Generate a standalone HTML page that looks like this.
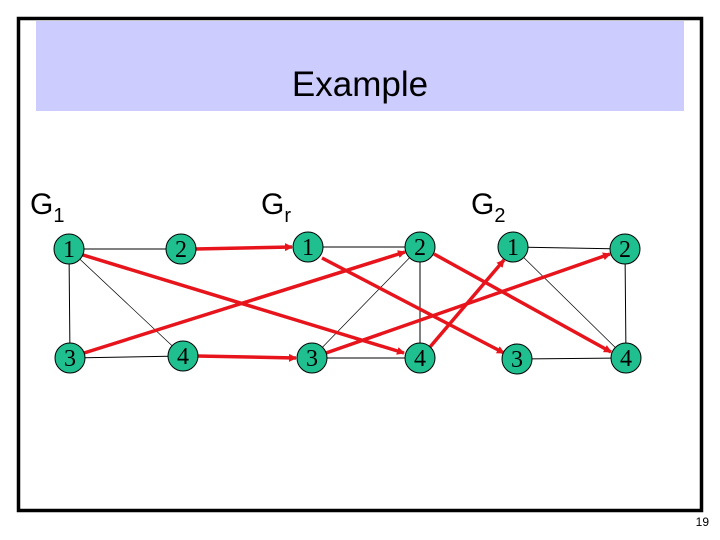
<!DOCTYPE html>
<html><head><style>
body{margin:0;width:720px;height:540px;background:#fff;overflow:hidden;position:relative;font-family:"Liberation Sans",sans-serif}
</style></head><body>
<svg width="720" height="540" style="position:absolute;left:0;top:0">
<defs><marker id="a" markerWidth="8" markerHeight="8" refX="7" refY="4" orient="auto" markerUnits="userSpaceOnUse"><path d="M0,0 L8,4 L0,8 z" fill="#e8141c"/></marker></defs>
<rect x="18.5" y="18.5" width="683" height="492" fill="none" stroke="#000" stroke-width="3.5"/>
<rect x="36" y="21" width="648" height="90" fill="#ccccff"/>
<text x="360" y="96" font-size="35" text-anchor="middle" font-family="Liberation Sans">Example</text>
<g font-family="Liberation Sans" font-size="30">
<text x="30" y="214">G<tspan font-size="20" dy="8">1</tspan></text>
<text x="261" y="214">G<tspan font-size="20" dy="8">r</tspan></text>
<text x="471" y="214">G<tspan font-size="20" dy="8">2</tspan></text>
</g>
<text x="709" y="526" font-size="12" text-anchor="end">19</text>
<g stroke="#000" stroke-width="1" fill="none">
<line x1="69" y1="249" x2="181" y2="249"/><line x1="69" y1="249" x2="70" y2="358"/><line x1="70" y1="358" x2="183" y2="356"/><line x1="69" y1="249" x2="183" y2="356" stroke-width="0.7"/>
<line x1="308" y1="247" x2="420" y2="247"/><line x1="420" y1="247" x2="420" y2="358"/><line x1="312" y1="358" x2="420" y2="358"/><line x1="312" y1="358" x2="420" y2="247" stroke-width="0.7"/>
<line x1="513" y1="247" x2="625" y2="249"/><line x1="625" y1="249" x2="626" y2="358"/><line x1="517" y1="359" x2="626" y2="358"/><line x1="513" y1="247" x2="626" y2="358" stroke-width="0.7"/>
</g>
<g stroke="#e8141c" stroke-width="3.5" marker-end="url(#a)">
<line x1="195" y1="249" x2="292" y2="247"/>
<line x1="197" y1="356" x2="296" y2="358"/>
<line x1="83" y1="255" x2="404" y2="353"/>
<line x1="84" y1="353" x2="405" y2="252"/>
<line x1="322" y1="258" x2="504" y2="353"/>
<line x1="434" y1="254" x2="611" y2="352"/>
<line x1="326" y1="353" x2="610" y2="254"/>
<line x1="430" y1="347" x2="504" y2="260"/>
</g>
<g fill="#1fbf8f" stroke="#000" stroke-width="1">
<circle cx="69" cy="249" r="15"/><circle cx="181" cy="249" r="15"/><circle cx="70" cy="358" r="15"/><circle cx="183" cy="356" r="15"/>
<circle cx="308" cy="247" r="15"/><circle cx="420" cy="247" r="15"/><circle cx="312" cy="358" r="15"/><circle cx="420" cy="358" r="15"/>
<circle cx="513" cy="247" r="15"/><circle cx="625" cy="249" r="15"/><circle cx="517" cy="359" r="15"/><circle cx="626" cy="358" r="15"/>
</g>
<g font-family="Liberation Serif" font-size="24" text-anchor="middle">
<text x="69" y="257">1</text><text x="181" y="257">2</text><text x="70" y="366">3</text><text x="183" y="364">4</text>
<text x="308" y="255">1</text><text x="420" y="255">2</text><text x="312" y="366">3</text><text x="420" y="366">4</text>
<text x="513" y="255">1</text><text x="625" y="257">2</text><text x="517" y="367">3</text><text x="626" y="366">4</text>
</g>
</svg>
</body></html>
